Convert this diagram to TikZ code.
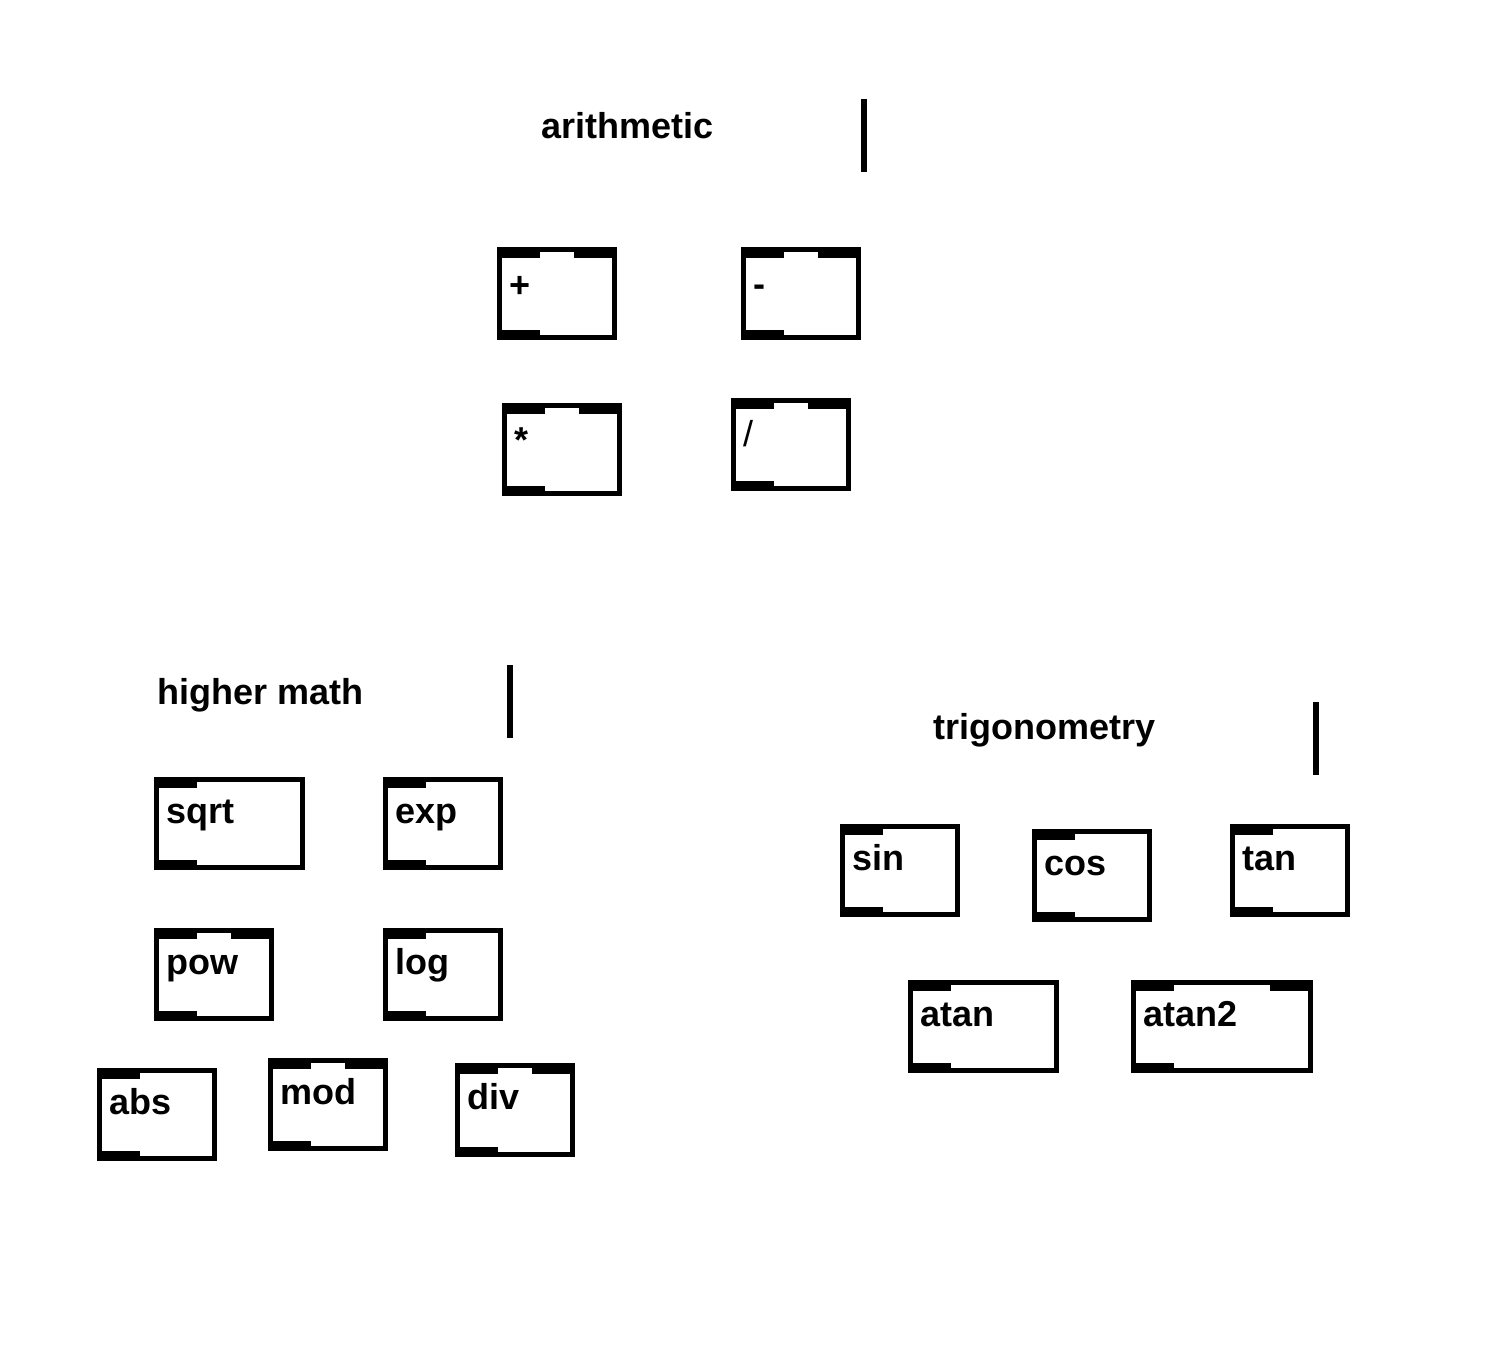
\documentclass[tikz,border=0pt]{standalone}
\usepackage{fontspec}
\setmainfont{Liberation Sans}
\usetikzlibrary{positioning}

\tikzset{
    pdborder/.style={line width=5pt},
    pdport/.style={fill=black},
    pdlabel/.style={anchor=base west, inner sep=0pt, font=\fontsize{36}{40}\selectfont\bfseries},
    pdcomment/.style={anchor=base west, inner sep=0pt, font=\fontsize{36}{40}\selectfont\bfseries},
    pdbar/.style={line width=6pt},
}

% #1 name, #2 x, #3 y, #4 width, #5 height, #6 text, #7 number of inlets
\newcommand{\pdobj}[7]{%
    \draw[pdborder] ({#2+2.5},{#3+2.5}) rectangle ({#2+#4-2.5},{#3+#5-2.5});
    \fill[pdport] (#2,#3) rectangle ({#2+43},{#3+11});
    \ifnum#7>1 \fill[pdport] ({#2+#4-43},#3) rectangle ({#2+#4},{#3+11});\fi
    \fill[pdport] (#2,{#3+#5-10}) rectangle ({#2+43},{#3+#5});
    \node[pdlabel] (#1) at ({#2+12},{#3+46}) {#6};
}

\begin{document}
\begin{tikzpicture}[x=1pt, y=-1pt]

    \useasboundingbox (0,0) rectangle (1496,1346);

    % =================================================================
    % 1. ARITHMETIC
    % =================================================================
    \node[pdcomment] (arith) at (541,138) {arithmetic};
    \coordinate (ArithBarTop) at (864,99);
    \coordinate (ArithBarEnd) at (864,172);
    \draw[pdbar] (ArithBarTop) -- (ArithBarEnd);

    % the one-character labels sit a little lower
    \pdobj{plus}{497}{247}{120}{93}{\raisebox{-4pt}{+}}{2}
    \pdobj{minus}{741}{247}{120}{93}{\raisebox{-3pt}{-}}{2}
    \pdobj{times}{502}{403}{120}{93}{\raisebox{-3pt}{*}}{2}
    \pdobj{over}{731}{398}{120}{93}{\raisebox{-2pt}{\mdseries/}}{2}

    % =================================================================
    % 2. HIGHER MATH
    % =================================================================
    \node[pdcomment] (higher) at (157,704) {higher math};
    \coordinate (HigherBarTop) at (510,665);
    \coordinate (HigherBarEnd) at (510,738);
    \draw[pdbar] (HigherBarTop) -- (HigherBarEnd);

    \pdobj{sqrt}{154}{777}{151}{93}{sqrt}{1}
    \pdobj{exp}{383}{777}{120}{93}{exp}{1}
    \pdobj{pow}{154}{928}{120}{93}{pow}{2}
    \pdobj{log}{383}{928}{120}{93}{log}{1}
    \pdobj{abs}{97}{1068}{120}{93}{abs}{1}
    \pdobj{mod}{268}{1058}{120}{93}{mod}{2}
    \pdobj{div}{455}{1063}{120}{94}{div}{2}

    % =================================================================
    % 3. TRIGONOMETRY
    % =================================================================
    \node[pdcomment] (trig) at (933,739) {trigonometry};
    \coordinate (TrigBarTop) at (1316,702);
    \coordinate (TrigBarEnd) at (1316,775);
    \draw[pdbar] (TrigBarTop) -- (TrigBarEnd);

    \pdobj{sin}{840}{824}{120}{93}{sin}{1}
    \pdobj{cos}{1032}{829}{120}{93}{cos}{1}
    \pdobj{tan}{1230}{824}{120}{93}{tan}{1}
    \pdobj{atan}{908}{980}{151}{93}{atan}{1}
    \pdobj{atantwo}{1131}{980}{182}{93}{atan2}{2}

\end{tikzpicture}
\end{document}
